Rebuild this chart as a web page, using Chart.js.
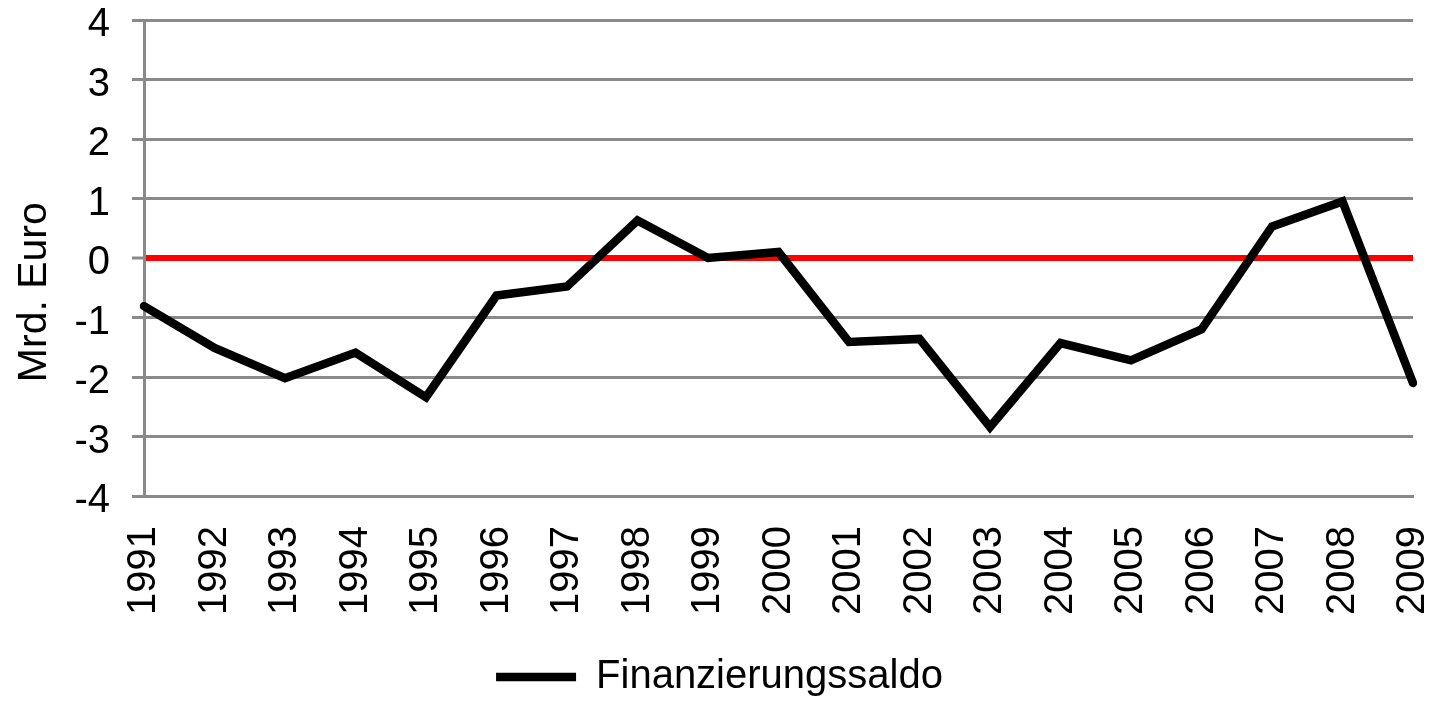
<!DOCTYPE html>
<html lang="de">
<head>
    <meta charset="UTF-8">
    <title>Finanzierungssaldo</title>
    <style>
        body, html {
            margin: 0;
            padding: 0;
            background: #fff;
            overflow: hidden;
        }
        #wrap {
            width: 1439px;
            height: 707px;
        }
    </style>
</head>
<body>
    <div id="wrap"><canvas id="saldoChart"></canvas></div>
    <script src="https://cdn.jsdelivr.net/npm/chart.js"></script>
    <script>
        const years = ['1991', '1992', '1993', '1994', '1995', '1996', '1997', '1998', '1999', '2000',
                       '2001', '2002', '2003', '2004', '2005', '2006', '2007', '2008', '2009'];
        const saldo = [-0.81, -1.51, -2.02, -1.59, -2.34, -0.63, -0.48, 0.63, 0.0, 0.1,
                       -1.41, -1.36, -2.84, -1.43, -1.72, -1.2, 0.53, 0.95, -2.1];
        const yTicks = [-4, -3, -2, -1, 0, 1, 2, 3, 4];
        const seriesName = 'Finanzierungssaldo';
        const yTitle = 'Mrd. Euro';

        const fontFamily = '"Liberation Sans", Arial, sans-serif';
        const gray = '#8a8a8a';

        Chart.defaults.font.family = fontFamily;
        Chart.defaults.color = '#000';

        new Chart(document.getElementById('saldoChart').getContext('2d'), {
            type: 'line',
            data: {
                labels: years,
                datasets: [{
                    label: seriesName,
                    data: saldo,
                    borderColor: '#000',
                    backgroundColor: '#000',
                    borderWidth: 8.5,
                    borderCapStyle: 'round',
                    borderJoinStyle: 'miter',
                    pointRadius: 0,
                    pointHoverRadius: 0,
                    tension: 0,
                    fill: false
                }]
            },
            options: {
                responsive: true,
                maintainAspectRatio: false,
                animation: false,
                layout: {
                    padding: { top: 20, right: 0, bottom: 0, left: 0 }
                },
                plugins: {
                    tooltip: { enabled: false },
                    legend: {
                        position: 'bottom',
                        labels: {
                            usePointStyle: true,
                            pointStyle: 'line',
                            pointStyleWidth: 80,
                            padding: 2,
                            font: { size: 40 },
                            color: '#000'
                        }
                    }
                },
                scales: {
                    x: {
                        offset: false,
                        grid: { display: false, drawTicks: false },
                        border: { display: true, color: gray, width: 3 },
                        ticks: {
                            minRotation: 90,
                            maxRotation: 90,
                            autoSkip: false,
                            padding: 30,
                            font: { size: 40 },
                            color: '#000'
                        },
                        afterFit: function (scale) {
                            scale.height = 159;
                            scale.paddingLeft = 0;
                            scale.paddingRight = 26;
                        }
                    },
                    y: {
                        min: -4,
                        max: 4,
                        afterBuildTicks: function (scale) {
                            scale.ticks = yTicks.map(v => ({ value: v }));
                        },
                        grid: {
                            color: ctx => (ctx.tick && ctx.tick.value === 0) ? '#ff0000' : gray,
                            lineWidth: ctx => (ctx.tick && ctx.tick.value === 0) ? 6 : 3,
                            tickColor: gray,
                            tickWidth: 3,
                            tickLength: 12
                        },
                        border: { display: true, color: gray, width: 3 },
                        ticks: {
                            padding: 22,
                            labelOffset: 5,
                            font: { size: 40 },
                            color: '#000'
                        },
                        title: {
                            display: true,
                            // trailing spaces push the rotated title a bit lower, as in the original
                            text: yTitle + '      ',
                            font: { size: 41 },
                            color: '#000',
                            padding: { top: 10, bottom: 0 }
                        },
                        afterFit: function (scale) {
                            scale.width = 144;
                            scale.paddingTop = 0;
                            scale.paddingBottom = 0;
                        }
                    }
                }
            }
        });
    </script>
</body>
</html>
